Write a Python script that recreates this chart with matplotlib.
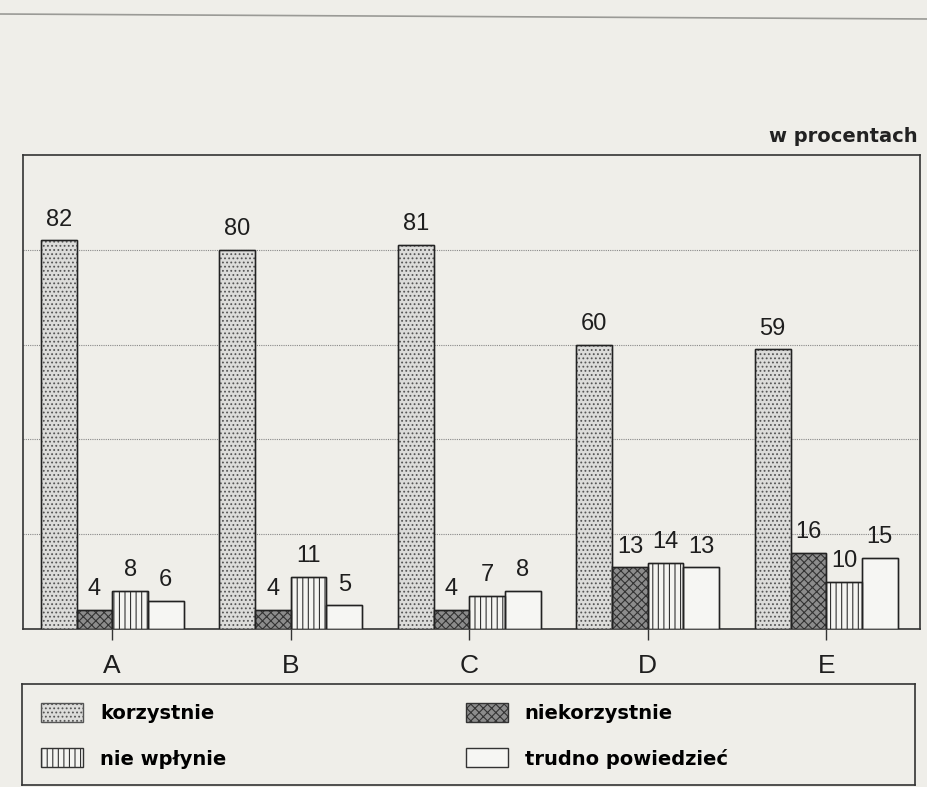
import numpy as np
import matplotlib
matplotlib.use("Agg")
import matplotlib.pyplot as plt
from matplotlib.lines import Line2D

# --- dane ---
categories = ["A", "B", "C", "D", "E"]
korzystnie = [82, 80, 81, 60, 59]
niekorzystnie = [4, 4, 4, 13, 16]
nie_wplynie = [8, 11, 7, 14, 10]
trudno = [6, 5, 8, 13, 15]

series_labels = ["korzystnie", "niekorzystnie", "nie wpłynie", "trudno powiedzieć"]
unit_label = "w procentach"

# --- styl ---
paper = "#efeee9"
plt.rcParams["hatch.linewidth"] = 0.8

fig = plt.figure(figsize=(9.28, 7.87), dpi=100, facecolor=paper)

ax = fig.add_axes([23 / 928, 1 - 629 / 787, 897 / 928, 474 / 787])
ax.set_facecolor(paper)

x = np.arange(len(categories))
w = 0.2
styles = [
    dict(facecolor="#dcdcda", hatch="....", edgecolor="#555555"),
    dict(facecolor="#8c8c8c", hatch="xxxx", edgecolor="#333333"),
    dict(facecolor="#f4f4f1", hatch="|||", edgecolor="#333333"),
    dict(facecolor="#f6f6f3", hatch=None, edgecolor="#333333"),
]

handles = []
for i, (vals, st) in enumerate(zip([korzystnie, niekorzystnie, nie_wplynie, trudno], styles)):
    bars = ax.bar(x + (i - 1.5) * w, vals, w, facecolor=st["facecolor"],
                  hatch=st["hatch"], edgecolor=st["edgecolor"], linewidth=1.0,
                  label=series_labels[i], zorder=3)
    # obrys bez kreskowania
    ax.bar(x + (i - 1.5) * w, vals, w, facecolor="none", edgecolor="#222222",
           linewidth=1.0, zorder=4)
    ax.bar_label(bars, padding=7, fontsize=17, family="Liberation Sans",
                 color="#1e1e1e", zorder=5)
    handles.append(bars)

ax.set_xlim(-0.5, 4.525)
ax.set_ylim(0, 100)
ax.set_yticks([20, 40, 60, 80])
ax.yaxis.grid(True, linestyle=(0, (1, 1)), color="#888888", linewidth=0.8, zorder=0)
ax.tick_params(axis="y", length=0, labelleft=False)
ax.set_xticks(x)
ax.set_xticklabels(categories, fontsize=19, family="Liberation Sans", color="#1e1e1e")
ax.tick_params(axis="x", direction="out", length=8, width=1, pad=10, color="#333333")
for s in ax.spines.values():
    s.set_color("#333333")
    s.set_linewidth(1.2)

fig.text(918 / 928, 1 - 137 / 787, unit_label, ha="right", va="center",
         fontsize=14, fontweight="bold", family="DejaVu Sans", color="#222222")

# ramka legendy
lax = fig.add_axes([22 / 928, 1 - 785 / 787, 893 / 928, 101 / 787])
lax.set_facecolor(paper)
lax.set_xticks([])
lax.set_yticks([])
for s in lax.spines.values():
    s.set_color("#333333")
    s.set_linewidth(1.2)

order = [0, 2, 1, 3]
lax.legend([handles[k] for k in order], [series_labels[k] for k in order],
           ncol=2, loc="upper left", bbox_to_anchor=(0, 1), borderaxespad=0,
           borderpad=0.98, frameon=False, handlelength=2.16, handleheight=1.13,
           handletextpad=0.88, labelspacing=1.3, columnspacing=12.3,
           prop=dict(family="DejaVu Sans", weight="bold", size=14))

# krawędź kartki u góry skanu
fig.add_artist(Line2D([0.0, 1.0], [1 - 14 / 787, 1 - 19 / 787],
                      color="#9a9a96", linewidth=1.2))

fig.savefig("out.png", dpi=100, facecolor=paper)
